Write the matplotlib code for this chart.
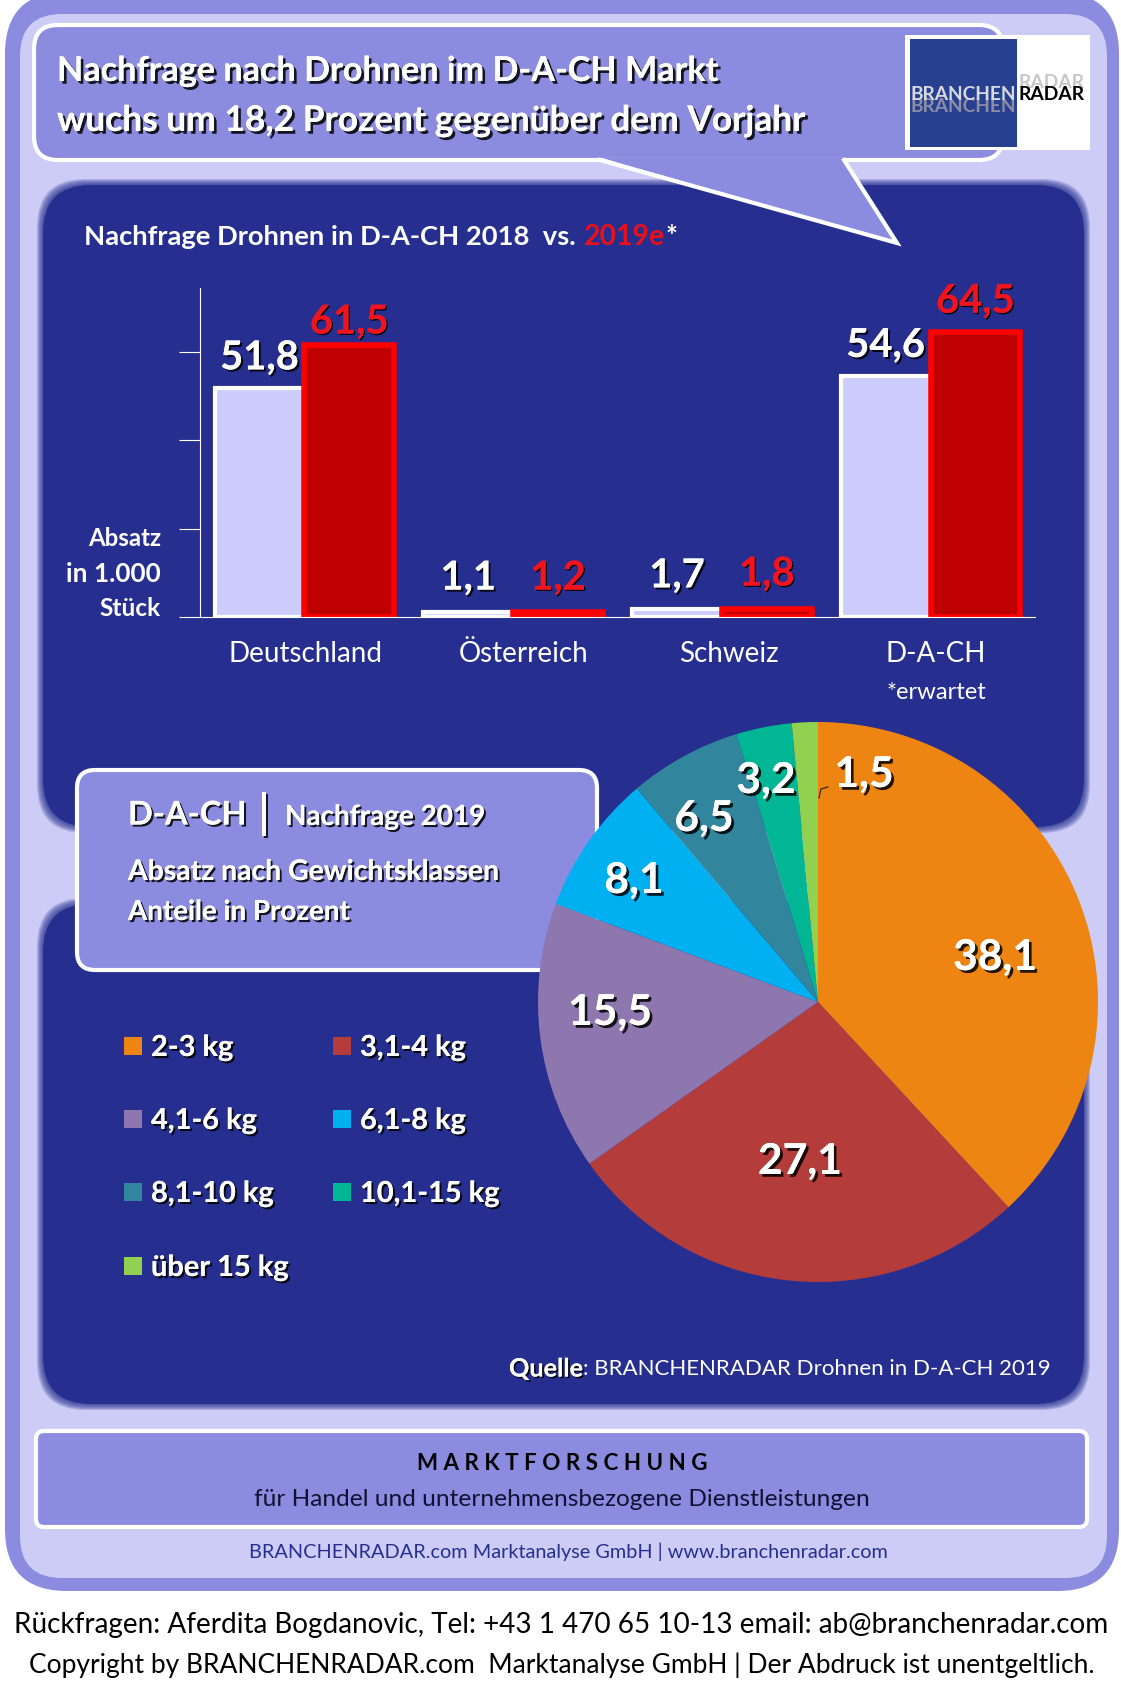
import matplotlib
matplotlib.use("Agg")
import matplotlib.pyplot as plt
import matplotlib.patheffects as pe
from matplotlib.patches import FancyBboxPatch, Polygon, Rectangle
from matplotlib.transforms import ScaledTranslation

# ============================
# Drohnen infographic
# ============================

W, H = 1121, 1687

# Bar chart data
countries = ["Deutschland", "Österreich", "Schweiz", "D-A-CH"]
sales_2018 = [51.8, 1.1, 1.7, 54.6]
sales_2019 = [61.5, 1.2, 1.8, 64.5]

# Pie chart data
weight_classes = ["2-3 kg", "3,1-4 kg", "4,1-6 kg", "6,1-8 kg", "8,1-10 kg", "10,1-15 kg", "über 15 kg"]
shares = [38.1, 27.1, 15.5, 8.1, 6.5, 3.2, 1.5]
pie_colors = ["#EE8412", "#B43D3C", "#8E76AE", "#00B0F0", "#31859C", "#00B695", "#92D050"]

OUTER = "#8B8BE0"
LIGHT = "#CCCCF6"
NAVY = "#262F8F"

plt.rcParams["font.family"] = ["Lato", "DejaVu Sans"]

fig = plt.figure(figsize=(W / 100, H / 100), dpi=100, facecolor="white")
renderer = fig.canvas.get_renderer()

# Full figure axes in pixels for all the decoration
pix = fig.add_axes([0, 0, 1, 1], zorder=0)
pix.set_xlim(0, W)
pix.set_ylim(H, 0)
pix.axis("off")


def rounded(x0, y0, x1, y1, r, face, edge="none", lw=0, z=1, alpha=1):
    box = FancyBboxPatch((x0, y0), x1 - x0, y1 - y0,
                         boxstyle=f"round,pad=0,rounding_size={r}",
                         facecolor=face, edgecolor=edge, linewidth=lw, zorder=z, alpha=alpha)
    pix.add_patch(box)


def soft_panel(x0, y0, x1, y1, r):
    # Blurred edge: stack of shrinking boxes, solid one on top
    for i in range(6):
        rounded(x0 - 3 + i, y0 - 3 + i, x1 + 3 - i, y1 + 3 - i, r, NAVY, z=2, alpha=0.2)
    rounded(x0 + 3, y0 + 3, x1 - 3, y1 - 3, r, NAVY, z=2)


def fit(t, px):
    # Original font is narrower than anything installed, so size text by its width
    w = t.get_window_extent(renderer).width
    t.set_fontsize(t.get_fontsize() * px / w)
    return t


def label(x, y, s, px=None, size=20, color="white", weight="normal", ha="left", z=6, ax=None, **kw):
    target = ax if ax is not None else pix
    t = target.text(x, y, s, fontsize=size, color=color, fontweight=weight, va="center", ha=ha, zorder=z, **kw)
    if px:
        fit(t, px)
    return t


def size_for(s, px, weight="bold"):
    # Font size that makes s px wide, for groups of labels sharing one size
    t = fit(label(0, 0, s, weight=weight), px)
    size = t.get_fontsize()
    t.remove()
    return size


def shadow(t, shift=2.0):
    t.set_path_effects([pe.withSimplePatchShadow(offset=(shift, -shift), shadow_rgbFace="black", alpha=0.85),
                        pe.Normal()])
    return t


def fmt(v):
    return f"{v:.1f}".replace(".", ",")


# Background frames
rounded(5, -8, 1119, 1591, 62, OUTER)
rounded(20, 14, 1107, 1578, 42, LIGHT)
soft_panel(40, 182, 1087, 830, 48)
soft_panel(40, 901, 1087, 1407, 48)

# Speech bubble
rounded(34, 25, 1003, 160, 24, OUTER, "white", 3, z=3)
pix.add_patch(Polygon([(602, 158), (897, 243), (844, 158)], facecolor=OUTER, edgecolor="none", zorder=4))
pix.plot([600, 897, 844], [160, 243, 160], color="white", lw=3, zorder=4, solid_joinstyle="miter")
shadow(label(57, 71, "Nachfrage nach Drohnen im D-A-CH Markt", px=661, weight="bold"))
shadow(label(57, 121, "wuchs um 18,2 Prozent gegenüber dem Vorjahr", px=748, weight="bold"))

# Logo
pix.add_patch(Rectangle((905, 35), 185, 115, facecolor="white", zorder=5))
pix.add_patch(Rectangle((910, 39), 107, 108, facecolor="#27408F", zorder=5))
label(1016, 94, "BRANCHEN", px=106, color="#D8D8E0", weight="bold", ha="right", z=6)
label(1018, 94, "RADAR", px=66, color="black", weight="bold", z=6)
label(1016, 106, "BRANCHEN", px=106, color="#8C8CA8", weight="bold", ha="right", z=5.5)
label(1018, 82, "RADAR", px=66, color="#C8C8C8", weight="bold", z=5.5)

# Bar chart heading
label(84, 237, "Nachfrage Drohnen in D-A-CH 2018  vs.", px=493, weight="bold")
label(584, 237, "2019e", px=81, color="#E8101A", weight="bold")
label(666, 237, "*", px=12, weight="bold")

# Bar chart
ax = fig.add_axes([200 / W, 1 - 617 / H, (1035 - 200) / W, (617 - 288) / H], zorder=1)
ax.patch.set_alpha(0)
positions = list(range(len(countries)))
bar_w = 0.43
ax.bar([p - bar_w / 2 for p in positions], sales_2018, bar_w, color="#CCCCFF", edgecolor="white", linewidth=3)
ax.bar([p + bar_w / 2 for p in positions], sales_2019, bar_w, color="#C00000", edgecolor="#FF0000", linewidth=4)
ax.set_xlim(-0.5, 3.5)
ax.set_ylim(0, 74.4)
ax.set_xticks(positions, countries, fontsize=size_for("Deutschland", 154, "normal"), color="white")
ax.tick_params(axis="x", length=0, pad=17)
ax.set_yticks([0, 20, 40, 60], [])
ax.tick_params(axis="y", length=15, width=0.8, color="white")
for side in ["top", "right"]:
    ax.spines[side].set_visible(False)
for side in ["left", "bottom"]:
    ax.spines[side].set_color("white")
    ax.spines[side].set_linewidth(0.8)

# Labels sit a bit right of their group in the original
for tick_label, dx in zip(ax.get_xticklabels(), [1, 10, 7, 5]):
    tick_label.set_transform(tick_label.get_transform() + ScaledTranslation(dx / 100, 0, fig.dpi_scale_trans))

# Gap between bar top and value label, in data units
gap_2018 = [6.8, 7.7, 7.6, 6.8]
gap_2019 = [5.2, 7.6, 7.9, 6.9]
bar_size = size_for("51,8", 79)
for p, a, b, ga, gb in zip(positions, sales_2018, sales_2019, gap_2018, gap_2019):
    shadow(label(p - bar_w / 2, a + ga, fmt(a), size=bar_size, weight="bold", ha="center", ax=ax), 1.5)
    shadow(label(p + bar_w / 2, b + gb, fmt(b), size=bar_size, color="#F0141E", weight="bold", ha="center", ax=ax), 1.0)

# Y axis caption
for y, s, px in zip([539, 574, 608], ["Absatz", "in 1.000", "Stück"], [73, 95, 61]):
    label(161, y, s, px=px, weight="bold", ha="right")
label(936, 692, "*erwartet", px=101, ha="center")

# Pie heading box
rounded(77, 770, 597, 970, 18, OUTER, "white", 3, z=3)
shadow(label(128, 815, "D-A-CH", px=119, weight="bold"), 1.5)
shadow(label(264, 814, "|", size=34, weight="normal", ha="center"), 1.5)
shadow(label(285, 817, "Nachfrage 2019", px=200, weight="bold"), 1.5)
shadow(label(128, 872, "Absatz nach Gewichtsklassen", px=371, weight="bold"), 1.5)
shadow(label(128, 912, "Anteile in Prozent", px=222, weight="bold"), 1.5)

# Legend
legend_x = [124, 333]
legend_y = [1046, 1119, 1192, 1266]
legend_size = size_for("10,1-15 kg", 140)
for i, (name, col) in enumerate(zip(weight_classes, pie_colors)):
    x = legend_x[i % 2]
    y = legend_y[i // 2]
    pix.add_patch(Rectangle((x, y - 9), 18, 18, facecolor=col, zorder=6))
    shadow(label(x + 27, y + 2, name, size=legend_size, weight="bold"), 1.5)

# Pie chart
pie_ax = fig.add_axes([538 / W, 1 - 1282 / H, 560 / W, 560 / H], zorder=2)
pie_ax.pie(shares, colors=pie_colors, startangle=90, counterclock=False, radius=1)
pie_ax.set_xlim(-1, 1)
pie_ax.set_ylim(-1, 1)

pie_size = size_for("38,1", 84)
pie_label_xy = [(995, 957), (800, 1161), (610, 1012), (634, 880), (704, 818), (766, 780), (864, 774)]
for (x, y), v in zip(pie_label_xy, shares):
    shadow(label(x, y, fmt(v), size=pie_size, weight="bold", ha="center", ax=pie_ax, transform=pix.transData))
pie_ax.plot([819, 821, 828], [798, 789, 787], color="#222222", lw=0.8, transform=pix.transData, clip_on=False)

# Source
shadow(label(509, 1369, "Quelle", px=74, weight="bold"), 1.2)
label(583, 1369, ": BRANCHENRADAR Drohnen in D-A-CH 2019", px=469)

# Bottom box
rounded(36, 1431, 1087, 1527, 8, OUTER, "white", 3, z=3)
label(562, 1464, "M A R K T F O R S C H U N G", px=290, color="black", weight="bold", ha="center")
label(562, 1499, "für Handel und unternehmensbezogene Dienstleistungen", px=615, color="#111133", ha="center")
label(568, 1552, "BRANCHENRADAR.com Marktanalyse GmbH | www.branchenradar.com", px=639, color=NAVY, ha="center")

# Footer
label(14, 1625, "Rückfragen: Aferdita Bogdanovic, Tel: +43 1 470 65 10-13 email: ab@branchenradar.com", px=1096, color="black")
label(29, 1665, "Copyright by BRANCHENRADAR.com  Marktanalyse GmbH | Der Abdruck ist unentgeltlich.", px=1066, color="black")

fig.savefig("out.png", dpi=100)
